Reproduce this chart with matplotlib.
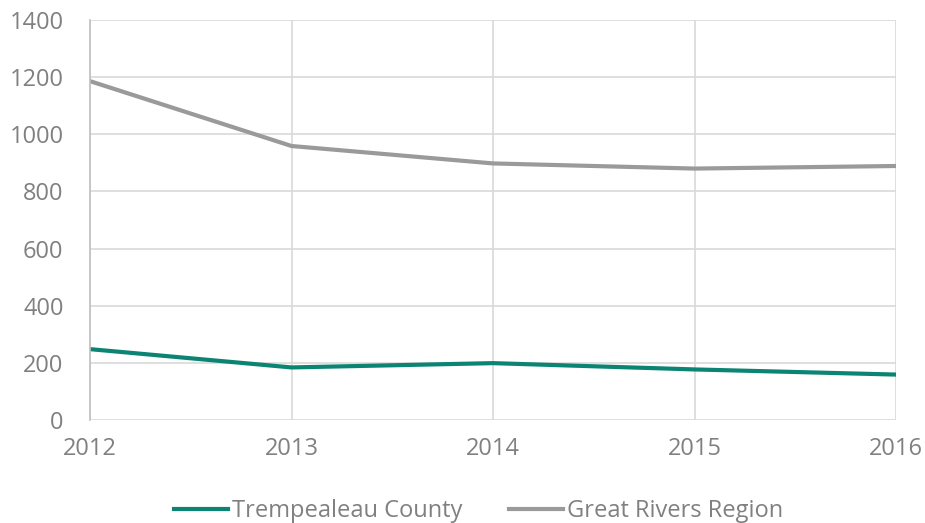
import matplotlib.pyplot as plt

years = [2012, 2013, 2014, 2015, 2016]
trempealeau = [248, 184, 199, 177, 159]
great_rivers = [1186, 959, 898, 880, 889]

plt.rcParams['font.family'] = ['Open Sans', 'DejaVu Sans']

fig = plt.figure(figsize=(9.25, 5.23), dpi=100)
ax = fig.add_axes([90 / 925, 103 / 523, 806 / 925, 400 / 523])

ax.plot(years, trempealeau, color='#0b8474', lw=3, label='Trempealeau County')
ax.plot(years, great_rivers, color='#9a9a9a', lw=3, label='Great Rivers Region')

ax.set_xlim(2012, 2016)
ax.set_ylim(0, 1400)
ax.set_xticks(years)
ax.set_yticks(range(0, 1401, 200))
ax.grid(True, color='#d9d9d9', lw=1.2)
ax.set_axisbelow(True)

for s in ['top', 'right', 'bottom']:
    ax.spines[s].set_visible(False)
ax.spines['left'].set_color('#bfbfbf')
ax.spines['left'].set_linewidth(1.2)

ax.tick_params(length=0, labelsize=17, labelcolor='#808080')
ax.tick_params(axis='x', pad=12)
ax.tick_params(axis='y', pad=19)

ax.legend(loc='center', bbox_to_anchor=(0.482, -0.227), ncol=2, frameon=False,
          fontsize=17, labelcolor='#808080', handlelength=2.3,
          handletextpad=0.17, columnspacing=1.95)

fig.savefig('out.png', dpi=100)
